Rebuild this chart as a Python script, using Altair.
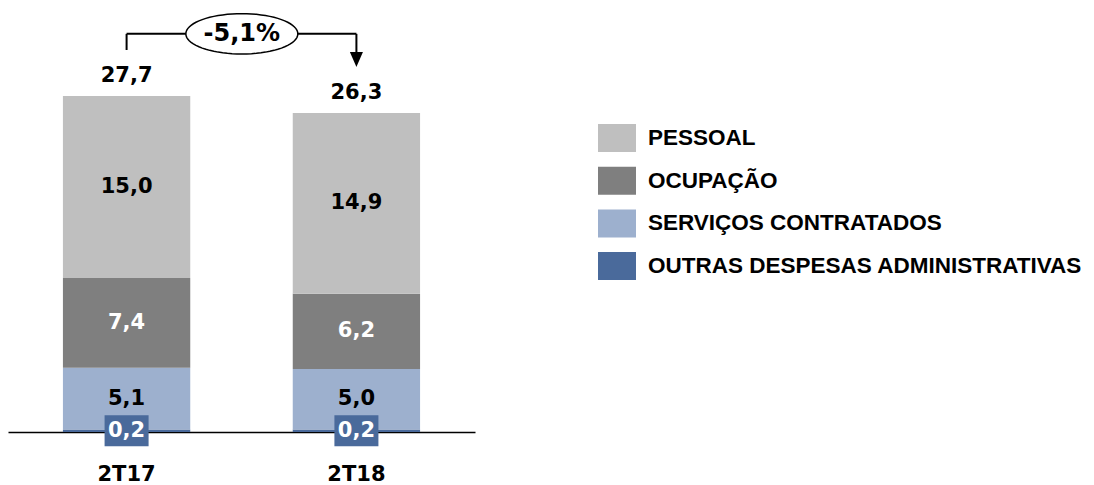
import math
import altair as alt
import pandas as pd

# ---------------- data ----------------
CATEGORIES = ["2T17", "2T18"]
# stack order, bottom to top
SEGMENTS = ["OUTRAS DESPESAS ADMINISTRATIVAS", "SERVIÇOS CONTRATADOS", "OCUPAÇÃO", "PESSOAL"]
VALUES_2T17 = [0.2, 5.1, 7.4, 15.0]
VALUES_2T18 = [0.2, 5.0, 6.2, 14.9]
TOTALS = [27.7, 26.3]
VARIATION = "-5,1%"
LEGEND_ORDER = ["PESSOAL", "OCUPAÇÃO", "SERVIÇOS CONTRATADOS", "OUTRAS DESPESAS ADMINISTRATIVAS"]
COLORS = ["#BFBFBF", "#7F7F7F", "#9DB0CE", "#4A6A9B"]
WHITE_LABEL_SEGMENTS = ["OCUPAÇÃO", "OUTRAS DESPESAS ADMINISTRATIVAS"]

# ---------------- layout constants ----------------
Y_MAX = 34.95
BRACKET_Y = 32.82
LEFT_DROP_Y = 31.49
RIGHT_DROP_Y = 31.0
ARROW_Y = 30.71
HALF_STEP = 115.25
NUM_FONT = "DejaVu Sans"

# ellipse symbol outline (unit shape, scaled by the symbol size)
_pts = [(math.cos(2 * math.pi * k / 72), 0.36 * math.sin(2 * math.pi * k / 72)) for k in range(72)]
ELLIPSE_PATH = "M" + "L".join(f"{px:.4f},{py:.4f}" for px, py in _pts) + "Z"


def fmt(v):
    return f"{v:.1f}".replace(".", ",")


rows = []
for cat, vals in zip(CATEGORIES, [VALUES_2T17, VALUES_2T18]):
    base = 0.0
    for i, (seg, v) in enumerate(zip(SEGMENTS, vals)):
        rows.append(dict(cat=cat, seg=seg, order=i, y0=base, y1=base + v,
                         mid=base + v / 2, label=fmt(v)))
        base += v
df = pd.DataFrame(rows)
tot = pd.DataFrame(dict(cat=CATEGORIES, total=TOTALS, label=[fmt(t) for t in TOTALS]))
ann = pd.DataFrame(dict(cat=[CATEGORIES[0]], cat2=[CATEGORIES[1]], text=[VARIATION],
                        yb=[BRACKET_Y], yl=[LEFT_DROP_Y], yr=[RIGHT_DROP_Y], ya=[ARROW_Y]))

xscale = alt.Scale(domain=CATEGORIES, paddingInner=0.446, paddingOuter=0.239)
yscale = alt.Scale(domain=[0, Y_MAX], nice=False, zero=True)

bars = alt.Chart(df).mark_bar().encode(
    x=alt.X("cat:N", scale=xscale, sort=CATEGORIES,
            axis=alt.Axis(title=None, labelAngle=0, labelFont=NUM_FONT, labelFontWeight="bold",
                          labelFontSize=21, labelColor="black", labelPadding=31, ticks=False,
                          domainColor="black", domainWidth=1.5)),
    y=alt.Y("y0:Q", scale=yscale, axis=None),
    y2="y1:Q",
    color=alt.Color("seg:N", scale=alt.Scale(domain=LEGEND_ORDER, range=COLORS),
                    legend=alt.Legend(title=None, orient="none", legendX=590, legendY=111,
                                      symbolType="M-1,-0.737L1,-0.737L1,0.737L-1,0.737Z",
                                      symbolSize=1444, symbolStrokeWidth=0, symbolOpacity=1,
                                      labelFont="Liberation Sans", labelFontWeight="bold",
                                      labelFontSize=22.5, labelColor="black", labelLimit=0,
                                      labelOffset=12, rowPadding=8.7)),
)

box = alt.Chart(df).transform_filter(
    alt.FieldEqualPredicate(field="seg", equal=SEGMENTS[0])
).mark_point(shape="M-1,-0.705L1,-0.705L1,0.705L-1,0.705Z", size=1936, filled=True,
             color=COLORS[3], opacity=1).encode(
    x="cat:N", y=alt.Y("mid:Q", scale=yscale))

seg_text = alt.Chart(df).mark_text(font=NUM_FONT, fontWeight="bold", fontSize=21,
                                   baseline="middle").encode(
    x="cat:N",
    y=alt.Y("mid:Q", scale=yscale),
    text="label:N",
    color=alt.condition(alt.FieldOneOfPredicate(field="seg", oneOf=WHITE_LABEL_SEGMENTS),
                        alt.value("white"), alt.value("black")),
)

tot_text = alt.Chart(tot).mark_text(font=NUM_FONT, fontWeight="bold", fontSize=21,
                                    baseline="middle", dy=-19.5, color="black").encode(
    x="cat:N", y=alt.Y("total:Q", scale=yscale), text="label:N")

hline = alt.Chart(ann).mark_rule(color="black", strokeWidth=2).encode(
    x="cat:N", x2="cat2:N", y=alt.Y("yb:Q", scale=yscale))
lline = alt.Chart(ann).mark_rule(color="black", strokeWidth=2).encode(
    x="cat:N", y=alt.Y("yb:Q", scale=yscale), y2="yl:Q")
rline = alt.Chart(ann).mark_rule(color="black", strokeWidth=2).encode(
    x="cat2:N", y=alt.Y("yb:Q", scale=yscale), y2="yr:Q")
arrow = alt.Chart(ann).mark_point(shape="M-1,-1.15L1,-1.15L0,1.15Z", size=169, filled=True,
                                  color="black", opacity=1).encode(
    x="cat2:N", y=alt.Y("ya:Q", scale=yscale))
ellipse = alt.Chart(ann).mark_point(
    shape=ELLIPSE_PATH, size=12544,
    fill="white", stroke="black", strokeWidth=1.5, opacity=1, fillOpacity=1,
    xOffset=HALF_STEP).encode(
    x="cat:N", y=alt.Y("yb:Q", scale=yscale))
var_text = alt.Chart(ann).mark_text(font=NUM_FONT, fontWeight="bold", fontSize=24,
                                    baseline="middle", dx=HALF_STEP, color="black").encode(
    x="cat:N", y=alt.Y("yb:Q", scale=yscale), text="text:N")

chart = alt.layer(bars, box, seg_text, tot_text, hline, lline, rline, arrow, ellipse, var_text
                  ).properties(width=467, height=424, padding=0
                  ).configure_view(strokeWidth=0)

chart.save("out.html", embed_options={"renderer": "svg", "actions": False})
